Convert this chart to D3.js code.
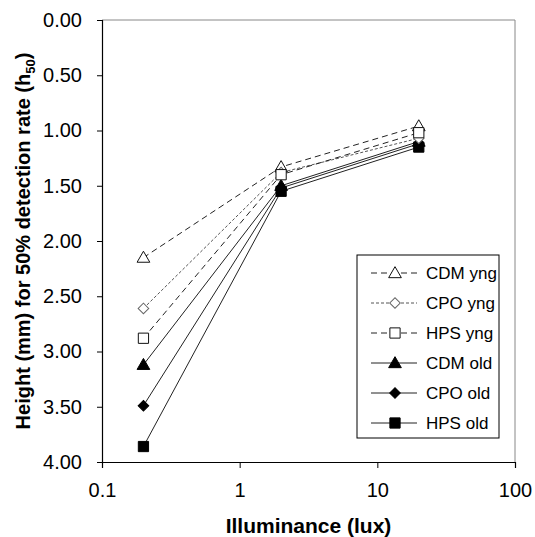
<!DOCTYPE html>
<html>
<head>
<meta charset="utf-8">
<script src="https://cdn.jsdelivr.net/npm/d3@7"></script>
<style>
  body { margin: 0; background: #fff; }
  svg { display: block; font-family: "Liberation Sans", Arial, sans-serif; }
</style>
</head>
<body>
<div id="chart"></div>
<script>
// Data
let illuminance = [0.2, 2, 20];
let seriesNames = ['CDM yng', 'CPO yng', 'HPS yng', 'CDM old', 'CPO old', 'HPS old'];
let cdmYng = [2.15, 1.33, 0.96];
let cpoYng = [2.61, 1.38, 1.07];
let hpsYng = [2.88, 1.40, 1.02];
let cdmOld = [3.12, 1.50, 1.10];
let cpoOld = [3.49, 1.52, 1.12];
let hpsOld = [3.86, 1.55, 1.15];
let yTicks = [0, 0.5, 1, 1.5, 2, 2.5, 3, 3.5, 4];
let xTicks = [0.1, 1, 10, 100];

let seriesValues = [cdmYng, cpoYng, hpsYng, cdmOld, cpoOld, hpsOld];
let seriesStyle = [
    { dash: '6,4', stroke: '#222', marker: 'triangle', fill: '#fff', mstroke: '#111' },
    { dash: '3,2', stroke: '#555', marker: 'diamond', fill: '#fff', mstroke: '#666' },
    { dash: '6,4', stroke: '#222', marker: 'square', fill: '#fff', mstroke: '#111' },
    { dash: null, stroke: '#222', marker: 'triangle', fill: '#000', mstroke: '#000' },
    { dash: null, stroke: '#222', marker: 'diamond', fill: '#000', mstroke: '#000' },
    { dash: null, stroke: '#222', marker: 'square', fill: '#000', mstroke: '#000' }
];

let width = 535, height = 537;
let margin = { top: 20, right: 20, bottom: 75, left: 102 };
let plotW = width - margin.left - margin.right;
let plotH = height - margin.top - margin.bottom;

let svg = d3.select('#chart').append('svg')
    .attr('width', width)
    .attr('height', height);

let g = svg.append('g')
    .attr('transform', 'translate(' + margin.left + ',' + margin.top + ')');

let x = d3.scaleLog().domain([0.1, 100]).range([0, plotW]);
let y = d3.scaleLinear().domain([0, 4]).range([0, plotH]);

// Plot area border (top & right)
g.append('line').attr('x1', 0).attr('x2', plotW).attr('y1', 0).attr('y2', 0)
    .attr('stroke', '#888').attr('stroke-width', 1);
g.append('line').attr('x1', plotW).attr('x2', plotW).attr('y1', 0).attr('y2', plotH)
    .attr('stroke', '#888').attr('stroke-width', 1);

// Axes
let yAxis = g.append('g')
    .call(d3.axisLeft(y).tickValues(yTicks).tickFormat(d3.format('.2f')).tickSize(5).tickPadding(15));
let xAxis = g.append('g')
    .attr('transform', 'translate(0,' + plotH + ')')
    .call(d3.axisBottom(x).tickValues(xTicks).tickFormat(d => d >= 1 ? d3.format('d')(d) : '0.1').tickSize(6).tickPadding(15));

[yAxis, xAxis].forEach(function(ax) {
    ax.select('.domain').attr('stroke', '#000').attr('stroke-width', 1.2);
    ax.selectAll('.tick line').attr('stroke', '#000');
    ax.selectAll('.tick text').attr('font-size', '20px').attr('fill', '#000')
        .attr('font-family', '"Liberation Sans", Arial, sans-serif');
});

// Axis titles
svg.append('text')
    .attr('x', margin.left + plotW / 2)
    .attr('y', 533)
    .attr('text-anchor', 'middle')
    .attr('font-size', '21px')
    .attr('font-weight', 'bold')
    .text('Illuminance (lux)');

let yTitle = svg.append('text')
    .attr('transform', 'translate(30,' + (margin.top + plotH / 2) + ') rotate(-90)')
    .attr('text-anchor', 'middle')
    .attr('font-size', '20px')
    .attr('font-weight', 'bold');
yTitle.append('tspan').text('Height (mm) for 50% detection rate (h');
yTitle.append('tspan').attr('font-size', '13px').attr('dy', 5).text('50');
yTitle.append('tspan').attr('dy', -5).text(')');

// Marker helper
function markerPath(type) {
    if (type === 'triangle') return d3.symbol().type(d3.symbolTriangle).size(70)();
    if (type === 'square') return d3.symbol().type(d3.symbolSquare).size(105)();
    return d3.symbol().type(d3.symbolSquare).size(56)();
}
function markerTransform(type, px, py) {
    if (type === 'diamond') return 'translate(' + px + ',' + py + ') rotate(45)';
    if (type === 'triangle') return 'translate(' + px + ',' + (py + 1) + ')';
    return 'translate(' + px + ',' + py + ')';
}

let line = d3.line()
    .x(d => x(d[0]))
    .y(d => y(d[1]));

// Lines (draw yng on top of old)
let order = [3, 4, 5, 0, 1, 2];
order.forEach(function(i) {
    let pts = illuminance.map((v, j) => [v, seriesValues[i][j]]);
    let s = seriesStyle[i];
    g.append('path')
        .datum(pts)
        .attr('d', line)
        .attr('fill', 'none')
        .attr('stroke', s.stroke)
        .attr('stroke-width', 1)
        .attr('stroke-dasharray', s.dash);
});
order.forEach(function(i) {
    let pts = illuminance.map((v, j) => [v, seriesValues[i][j]]);
    let s = seriesStyle[i];
    g.selectAll('.m' + i)
        .data(pts)
        .enter()
        .append('path')
        .attr('class', 'm' + i)
        .attr('d', markerPath(s.marker))
        .attr('transform', d => markerTransform(s.marker, x(d[0]), y(d[1])))
        .attr('fill', s.fill)
        .attr('stroke', s.mstroke)
        .attr('stroke-width', 1);
});

// Legend
let legend = svg.append('g').attr('transform', 'translate(357,255)');
legend.append('rect')
    .attr('width', 142).attr('height', 183)
    .attr('fill', '#fff').attr('stroke', '#000').attr('stroke-width', 1);

seriesNames.forEach(function(name, i) {
    let s = seriesStyle[i];
    let row = legend.append('g').attr('transform', 'translate(0,' + (18 + i * 30) + ')');
    row.append('line')
        .attr('x1', 14).attr('x2', 60).attr('y1', 0).attr('y2', 0)
        .attr('stroke', s.stroke).attr('stroke-width', 1)
        .attr('stroke-dasharray', s.dash);
    row.append('path')
        .attr('d', markerPath(s.marker))
        .attr('transform', markerTransform(s.marker, 38, 0))
        .attr('fill', s.fill)
        .attr('stroke', s.mstroke)
        .attr('stroke-width', 1);
    row.append('text')
        .attr('x', 69).attr('y', 6)
        .attr('font-size', '17px')
        .text(name);
});
</script>
</body>
</html>
